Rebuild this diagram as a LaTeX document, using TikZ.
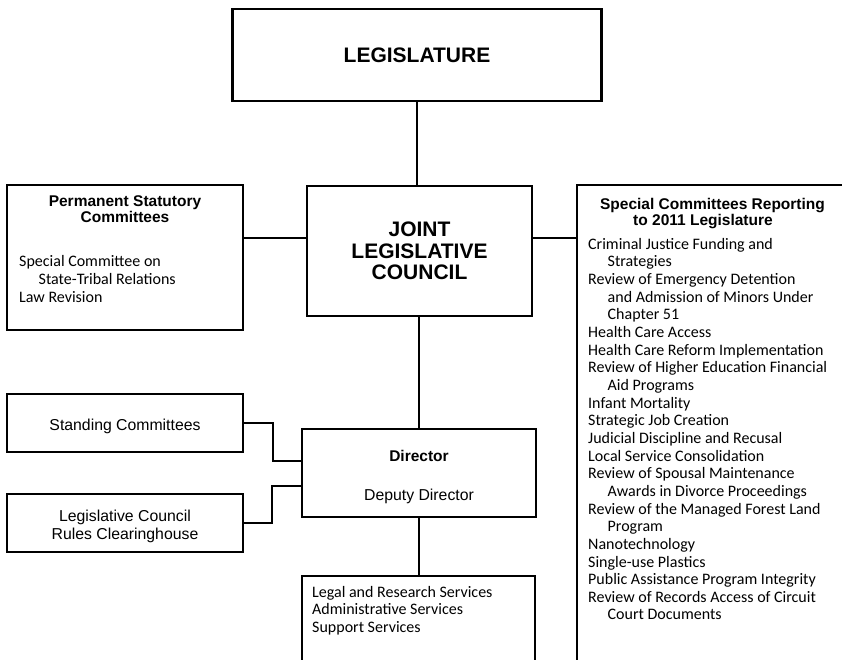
\documentclass[tikz,border=0pt]{standalone}
\usepackage{fontspec}
\setmainfont{Liberation Sans}
\newfontfamily\bodyfont{Carlito}
\begin{document}
\begin{tikzpicture}[x=1pt,y=-1pt,
  box/.style={draw, line width=2.7pt, rectangle, inner sep=0pt, outer sep=0pt},
  frame/.style={rectangle, inner sep=0pt, outer sep=0pt},
  wire/.style={line width=2.7pt},
  headbig/.style={font=\fontsize{21}{21.6}\selectfont\bfseries, align=center},
  headsm/.style={font=\fontsize{15.5}{15.6}\selectfont\bfseries, inner sep=0pt},
  lbl/.style={font=\fontsize{15.8}{18.6}\selectfont, inner sep=0pt},
  listtext/.style={font=\bodyfont\fontsize{16}{17.65}\selectfont, align=left, inner sep=0pt, anchor=north west}]
\useasboundingbox (0,0) rectangle (842,659);

% boxes
\node[box, headbig, minimum width=369pt, minimum height=92pt] (leg) at (417,55) {LEGISLATURE};
\node[box, headbig, minimum width=225pt, minimum height=130pt] (jlc) at (419.5,251) {JOINT\\LEGISLATIVE\\COUNCIL};
\node[box, minimum width=236pt, minimum height=145pt] (psc) at (125,257.5) {};
\node[frame, minimum width=273pt, minimum height=485pt] (sc) at (713.5,427.5) {};
\node[box, minimum width=234pt, minimum height=88pt] (dir) at (419,473) {};
\node[frame, minimum width=233pt, minimum height=94pt] (svc) at (418.5,623) {};
\node[box, minimum width=236pt, minimum height=58pt] (stand) at (125,423) {};
\node[box, minimum width=236pt, minimum height=58pt] (lcrc) at (125,523) {};

% open frames
\draw[wire] (sc.south west) -- (sc.north west) -- (sc.north east);
\draw[wire] (svc.south west) -- (svc.north west) -- (svc.north east) -- (svc.south east);

% texts
\node[headsm, align=center, anchor=north] (psct) at (125,195.6) {Permanent Statutory\\Committees};
\node[listtext] (pscl) at (19,255.5) {Special Committee on\\\hspace*{19.5pt}State-Tribal Relations\\Law Revision};

\node[headsm, anchor=base] (sct1) at (712.5,209.3) {Special Committees Reporting};
\node[headsm, anchor=base] (sct2) at (703,225) {to 2011 Legislature};
\node[listtext] (scl) at (588,238) {Criminal Justice Funding and\\
\hspace*{19.5pt}Strategies\\
Review of Emergency Detention\\
\hspace*{19.5pt}and Admission of Minors Under\\
\hspace*{19.5pt}Chapter 51\\
Health Care Access\\
Health Care Reform Implementation\\
Review of Higher Education Financial\\
\hspace*{19.5pt}Aid Programs\\
Infant Mortality\\
Strategic Job Creation\\
Judicial Discipline and Recusal\\
Local Service Consolidation\\
Review of Spousal Maintenance\\
\hspace*{19.5pt}Awards in Divorce Proceedings\\
Review of the Managed Forest Land\\
\hspace*{19.5pt}Program\\
Nanotechnology\\
Single-use Plastics\\
Public Assistance Program Integrity\\
Review of Records Access of Circuit\\
\hspace*{19.5pt}Court Documents};

\node[headsm, anchor=base] (dirt) at (419,461.7) {Director};
\node[lbl, anchor=base] (dept) at (419,500.7) {Deputy Director};
\node[listtext] (svcl) at (312,586) {Legal and Research Services\\Administrative Services\\Support Services};

\node[lbl, anchor=base] (standt) at (125,430.5) {Standing Committees};
\node[lbl, align=center, anchor=north] (lcrct) at (125,509.4) {Legislative Council\\Rules Clearinghouse};

% connectors
\coordinate (hy) at (0,238);
\coordinate (k1) at (273,461);
\coordinate (k2) at (272,486);
\draw[wire] (leg.south) -- (leg.south |- jlc.north);
\draw[wire] (psc.east |- hy) -- (jlc.west |- hy);
\draw[wire] (jlc.east |- hy) -- (sc.west |- hy);
\draw[wire] (dir.north) -- (dir.north |- jlc.south);
\draw[wire] (dir.south) -- (dir.south |- svc.north);
\draw[wire] (stand.east) -| (k1) -- (dir.west |- k1);
\draw[wire] (lcrc.east) -| (k2) -- (dir.west |- k2);
\end{tikzpicture}
\end{document}
